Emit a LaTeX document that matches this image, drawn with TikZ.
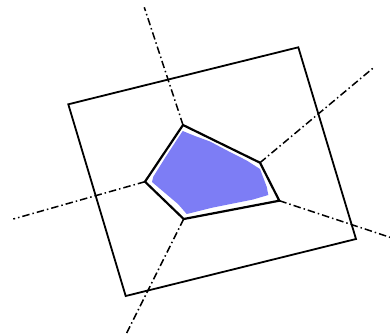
\documentclass[tikz,border=0pt]{standalone}
\begin{document}
\begin{tikzpicture}[x=1pt,y=-1pt,
  frame/.style={draw=black,line width=1.8pt,line join=miter},
  cell/.style={draw=black,line width=2.2pt,line join=miter},
  ray/.style={draw=black,line width=1.5pt,dash pattern=on 7.5pt off 3pt on 1.5pt off 3pt},
  blob/.style={fill={rgb,255:red,125;green,125;blue,245},draw=none}]
\useasboundingbox (0,0) rectangle (390,335);
% outer square
\coordinate (s1) at (68.3,104.3);
\coordinate (s2) at (298.3,47.3);
\coordinate (s3) at (356,239);
\coordinate (s4) at (125.7,296);
% pentagon vertices
\coordinate (pt) at (183,125);
\coordinate (pr) at (260,162.7);
\coordinate (pbr) at (279.3,200.7);
\coordinate (pb) at (183.7,219);
\coordinate (pl) at (145,181.7);
% ray ends
\coordinate (et) at (144.3,7.3);
\coordinate (er) at (374,67.3);
\coordinate (ebr) at (390,237.3);
\coordinate (eb) at (125.7,335);
\coordinate (el) at (13.3,219);
% blue region
\path[blob] (182.7,131) -- (195,136) -- (210,141.5) -- (228,151) -- (246.7,160.5) -- (260,169) -- (266.7,186.7) -- (268.3,195) -- (253,199.5) -- (213,207.5) -- (186.7,214) -- (178,204) -- (165,193) -- (152,182) -- (153.3,176.7) -- (165,158) -- (176.7,140) -- cycle;
% rays
\draw[ray] (pt) -- (et);
\draw[ray] (pr) -- (er);
\draw[ray] (pbr) -- (ebr);
\draw[ray] (pb) -- (eb);
\draw[ray] (pl) -- (el);
% frame and cell
\draw[frame] (s1) -- (s2) -- (s3) -- (s4) -- cycle;
\draw[cell] (pt) -- (pr) -- (pbr) -- (pb) -- (pl) -- cycle;
\end{tikzpicture}
\end{document}
